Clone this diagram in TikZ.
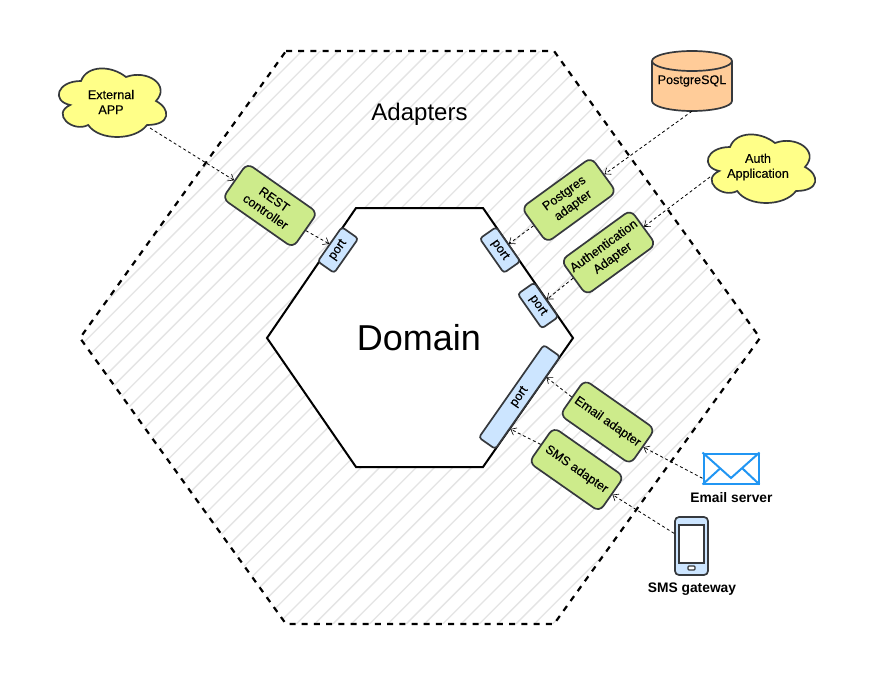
\documentclass[tikz,border=0pt]{standalone}
\usepackage{fontspec}
\setmainfont{Liberation Sans}
\newfontfamily\nodeface[FakeBold=0.25]{Liberation Sans}
\usetikzlibrary{arrows.meta}
\newcommand\nodefont{\nodeface\fontsize{12.6}{15}\selectfont}
\definecolor{strokedark}{HTML}{36393D}
\definecolor{greenfill}{HTML}{CDEB8B}
\definecolor{bluefill}{HTML}{CCE5FF}
\definecolor{orangefill}{HTML}{FFCC99}
\definecolor{yellowfill}{HTML}{FFFF88}
\definecolor{hatchgray}{HTML}{E4E4E4}
\definecolor{mailblue}{HTML}{2196F3}
\newcommand\cloudblob[2]{%
  \begin{scope}[shift={(#1,#2)},x=120pt,y=-80pt]
    \draw[cloudline] (.25,.25) .. controls (.05,.25) and (0,.5) .. (.16,.55)
      .. controls (0,.66) and (.18,.9) .. (.31,.8)
      .. controls (.4,1) and (.7,1) .. (.8,.8)
      .. controls (1,.8) and (1,.6) .. (.875,.5)
      .. controls (1,.3) and (.8,.1) .. (.625,.2)
      .. controls (.5,.05) and (.3,.05) .. (.25,.25) -- cycle;
  \end{scope}}
\tikzset{
  cloudline/.style={draw=strokedark,fill=yellowfill,line width=1.7pt},
  adapterbox/.style={draw=strokedark,fill=greenfill,line width=1.7pt,rounded corners=7pt,
    minimum width=86pt,minimum height=43pt,inner sep=0pt,align=center,font=\nodefont},
  portbox/.style={draw=strokedark,fill=bluefill,line width=1.7pt,rounded corners=3pt,
    minimum width=42pt,minimum height=20pt,inner sep=0pt,align=center,font=\nodefont},
  plaintext/.style={inner sep=0pt,align=center,font=\nodefont},
  boldlabel/.style={inner sep=0pt,font=\fontsize{13.8}{16}\selectfont\bfseries},
  flow/.style={draw=black,line width=0.8pt,dash pattern=on 3pt off 2.6pt,
    -{Straight Barb[length=5pt,width=8pt,line width=0.6pt]}},
  outerhex/.style={draw=black,line width=2.2pt,dash pattern=on 6pt off 6.2pt},
  innerhex/.style={draw=black,fill=white,line width=2pt},
  hatch/.style={draw=hatchgray,line width=1.3pt}
}
\begin{document}
\begin{tikzpicture}[x=1pt,y=-1pt]
\useasboundingbox[fill=white] (0,0) rectangle (870,675);
% outer hexagon hatching
\begin{scope}
  \clip (80,338) -- (286,51) -- (554,51) -- (760,338) -- (554,624) -- (286,624) -- cycle;
  \foreach \k in {-1,...,47} {
    \pgfmathsetmacro\c{353+18.3*\k}
    \draw[hatch] (\c-40,40) -- (\c-640,640);
  }
\end{scope}
\draw[outerhex] (286,51) -- (554,51) -- (760,338) -- (554,624) -- (286,624) -- (80,338) -- cycle;
\draw[innerhex] (267,338) -- (356,208) -- (483,208) -- (573,338) -- (483,467) -- (356,467) -- cycle;
\node[inner sep=0pt,font=\fontsize{36}{40}\selectfont] (domain) at (419,338) {Domain};
\node[inner sep=0pt,font=\fontsize{24}{28}\selectfont] (adapters) at (419.5,114) {Adapters};
% clouds
\cloudblob{51}{61}
\coordinate (extout) at (150,128);
\node[plaintext] (ext) at (111,102) {External\\APP};
\cloudblob{700}{127}
\coordinate (authout) at (710,177);
\node[plaintext] (auth) at (758,167) {Auth\\Application};
% database
\draw[draw=strokedark,fill=orangefill,line width=1.7pt]
  (652,61) -- (652,101) .. controls (652,106.5) and (670,111) .. (692,111)
  .. controls (714,111) and (732,106.5) .. (732,101) -- (732,61)
  .. controls (732,55.5) and (714,51) .. (692,51)
  .. controls (670,51) and (652,55.5) .. (652,61) -- cycle;
\draw[draw=strokedark,line width=1.7pt]
  (652,61) .. controls (652,66.5) and (670,71) .. (692,71)
  .. controls (714,71) and (732,66.5) .. (732,61);
\node[plaintext,minimum width=80pt,minimum height=60pt] (pg) at (692,81) {PostgreSQL};
% adapters
\node[adapterbox,rotate=-35] (rest) at (270,205.5) {REST\\controller};
\node[adapterbox,rotate=36] (pgad) at (569,200) {Postgres\\adapter};
\node[adapterbox,rotate=36] (authad) at (608.5,252.5) {Authentication\\Adapter};
\node[adapterbox,rotate=-35] (mailad) at (607.5,422) {Email adapter};
\node[adapterbox,rotate=-35] (smsad) at (576.5,469.5) {SMS adapter};
% ports
\node[portbox,rotate=55] (p1) at (338,250) {port};
\node[portbox,rotate=-55] (p2) at (500,250) {port};
\node[portbox,rotate=-55] (p3) at (538,305.5) {port};
\node[portbox,rotate=55,minimum width=113pt] (p4) at (519.5,397) {port};
% mail icon
\node[draw=mailblue,fill=white,line width=2pt,minimum width=55pt,minimum height=30pt,inner sep=0pt] (mail) at (731,468.5) {};
\draw[draw=mailblue,line width=2pt] (mail.north west) -- (731,478) -- (mail.north east);
\draw[draw=mailblue,line width=2pt] (mail.south west) -- (720,468.5);
\draw[draw=mailblue,line width=2pt] (mail.south east) -- (742.5,468.5);
\node[boldlabel] (maillabel) at (731.5,498) {Email server};
% phone icon
\node[draw=strokedark,fill=bluefill,line width=1.7pt,rounded corners=4pt,minimum width=33pt,minimum height=58pt,inner sep=0pt] (phone) at (691.5,546) {};
\node[draw=strokedark,fill=white,line width=1.7pt,minimum width=25pt,minimum height=38pt,inner sep=0pt] (screen) at (691.5,544) {};
\node[draw=strokedark,fill=white,line width=1.3pt,rounded corners=1pt,minimum width=7pt,minimum height=4pt,inner sep=0pt] (button) at (691.5,568) {};
\node[boldlabel] (phonelabel) at (692,589) {SMS gateway};
% connectors
\draw[flow] (extout) -- (rest.west);
\draw[flow] (rest.east) -- (p1.north);
\draw[flow] (pg.south) -- (pgad.east);
\draw[flow] (authout) -- (authad.east);
\draw[flow] (pgad.west) -- (p2.north);
\draw[flow] (authad.west) -- (p3.north);
\draw[flow] (mail.199) -- (mailad.east);
\draw[flow] (phone.144) -- (smsad.east);
\draw[flow] (mailad.west) -- (p4.-19);
\draw[flow] (smsad.west) -- (p4.-161);
\end{tikzpicture}
\end{document}
